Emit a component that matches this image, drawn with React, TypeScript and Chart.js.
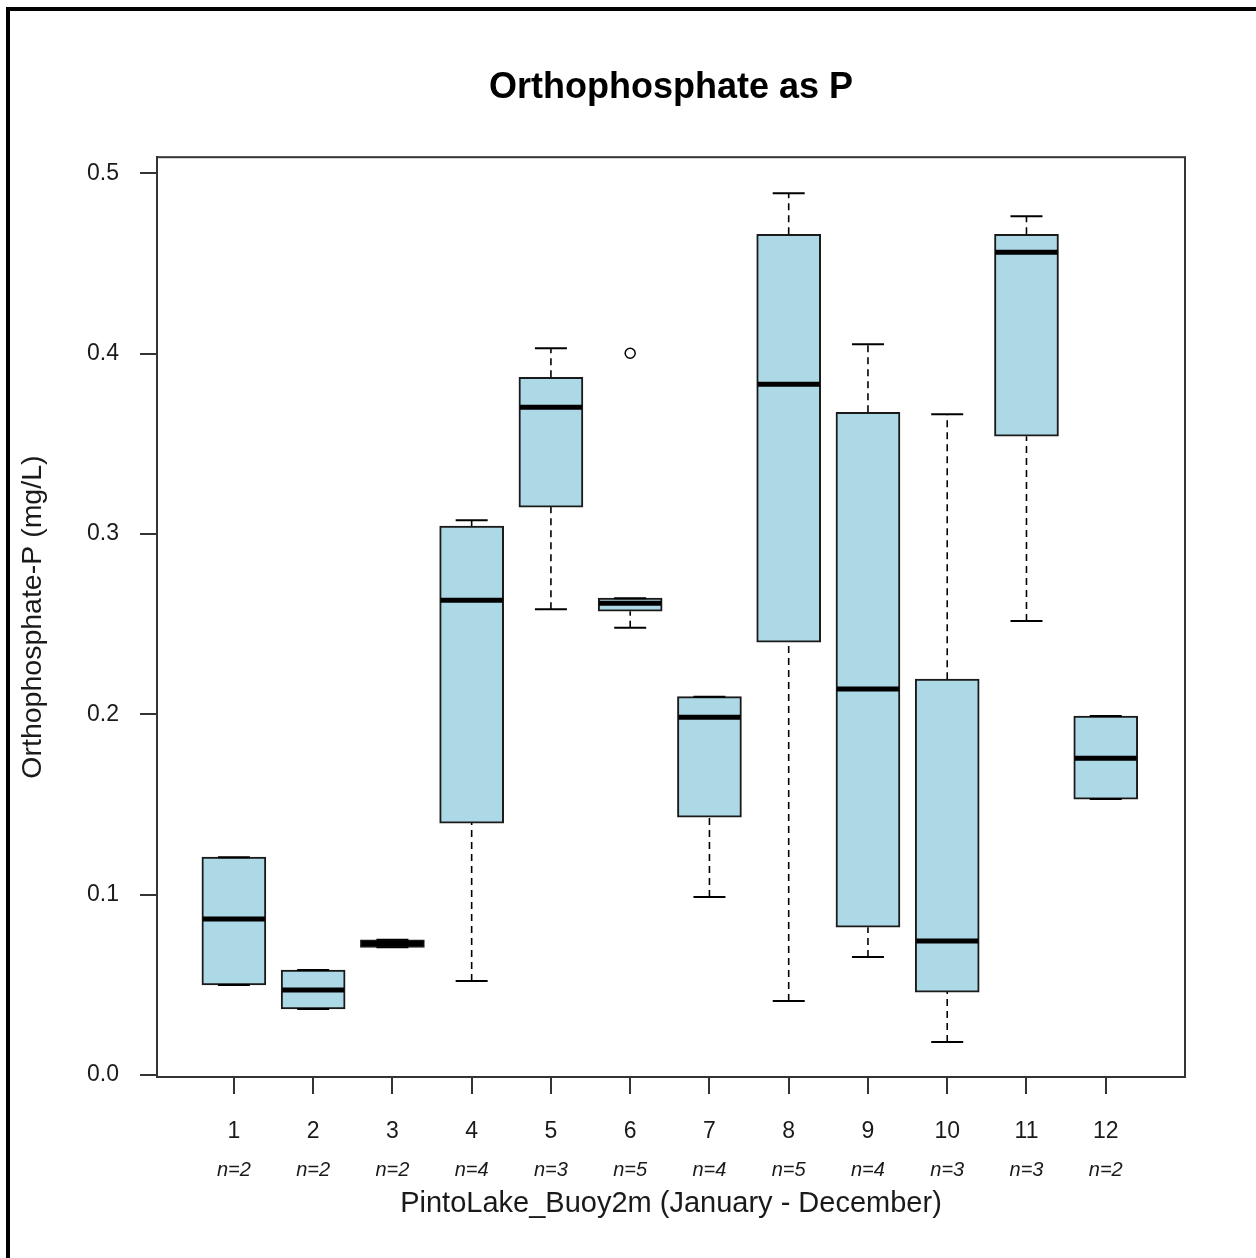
import React, { useEffect, useRef } from 'react';
import { Chart, registerables } from 'chart.js';

Chart.register(...registerables);

const months = ['1', '2', '3', '4', '5', '6', '7', '8', '9', '10', '11', '12'];
const counts = [2, 2, 2, 4, 3, 5, 4, 5, 4, 3, 3, 2];
const whiskerLow = [0.0499, 0.0366, 0.0708, 0.0521, 0.2583, 0.2480, 0.0987, 0.0410, 0.0654, 0.0183, 0.2517, 0.1530];
const q1 = [0.0499, 0.0366, 0.0708, 0.1397, 0.3149, 0.2572, 0.1430, 0.2400, 0.0820, 0.0460, 0.3542, 0.1530];
const medians = [0.0865, 0.0471, 0.0729, 0.2633, 0.3703, 0.2616, 0.1984, 0.3830, 0.2140, 0.0743, 0.4562, 0.1757];
const q3 = [0.1208, 0.0582, 0.0750, 0.3043, 0.3869, 0.2644, 0.2098, 0.4662, 0.3675, 0.2195, 0.4662, 0.1990];
const whiskerHigh = [0.1208, 0.0582, 0.0750, 0.3076, 0.4030, 0.2644, 0.2098, 0.4889, 0.4052, 0.3664, 0.4762, 0.1990];
const outlierMonths = [6];
const outlierValues = [0.4002];
const yTickValues = [0, 0.1, 0.2, 0.3, 0.4, 0.5];

const chartTitle = 'Orthophosphate as P';
const xTitle = 'PintoLake_Buoy2m (January - December)';
const yTitle = 'Orthophosphate-P (mg/L)';

const FONT = "'Liberation Sans', Arial, Helvetica, sans-serif";
const AXIS = '#333333';
const TEXT = '#1a1a1a';

const framePlugin = {
  id: 'plotFrame',
  afterDatasetsDraw(chart: any) {
    const { ctx, chartArea: a } = chart;
    ctx.save();
    ctx.strokeStyle = AXIS;
    ctx.lineWidth = 2;
    ctx.strokeRect(a.left, a.top, a.right - a.left, a.bottom - a.top);
    ctx.restore();
  },
};

export default function App() {
  const ref = useRef<HTMLCanvasElement | null>(null);

  useEffect(() => {
    if (!ref.current) return;
    const pos = months.map((_, i) => i + 1);

    const boxData = pos.map((x, i) => ({ x, y: [q1[i], q3[i]] }));
    const medianData = pos.map((x, i) => ({ x, y: medians[i] }));
    const whiskerData = pos.flatMap((x, i) => [
      { x, y: q3[i] },
      { x, y: whiskerHigh[i] },
      { x, y: null },
      { x, y: whiskerLow[i] },
      { x, y: q1[i] },
      { x, y: null },
    ]);
    const capData = pos.flatMap((x, i) => [
      { x, y: whiskerHigh[i] },
      { x, y: whiskerLow[i] },
    ]);
    const outlierData = outlierMonths.map((m, i) => ({ x: m, y: outlierValues[i] }));

    const chart = new Chart(ref.current, {
      type: 'bar',
      data: {
        datasets: [
          {
            type: 'scatter',
            data: medianData,
            pointStyle: 'line',
            pointRadius: 31,
            pointHoverRadius: 31,
            pointBorderWidth: 5,
            pointBorderColor: '#000',
            borderColor: '#000',
            order: 0,
          } as any,
          {
            type: 'scatter',
            data: outlierData,
            pointStyle: 'circle',
            pointRadius: 5,
            pointBorderWidth: 1.5,
            pointBorderColor: '#000',
            pointBackgroundColor: 'rgba(0,0,0,0)',
            order: 0,
          } as any,
          {
            type: 'scatter',
            data: capData,
            pointStyle: 'line',
            pointRadius: 16,
            pointBorderWidth: 2,
            pointBorderColor: '#000',
            borderColor: '#000',
            order: 1,
          } as any,
          {
            type: 'bar',
            data: boxData,
            backgroundColor: '#ADD8E6',
            borderColor: '#1a1a1a',
            borderWidth: 2,
            borderSkipped: false,
            barThickness: 64,
            order: 2,
          } as any,
          {
            type: 'line',
            data: whiskerData,
            borderColor: '#000',
            borderWidth: 1.6,
            borderDash: [7, 5],
            pointRadius: 0,
            spanGaps: false,
            fill: false,
            order: 3,
          } as any,
        ],
      },
      options: {
        responsive: false,
        animation: false,
        events: [],
        layout: { padding: { left: 0, right: 71, top: 0, bottom: 0 } },
        plugins: {
          legend: { display: false },
          tooltip: { enabled: false },
          title: {
            display: true,
            text: chartTitle,
            fullSize: false,
            color: '#000',
            font: { family: FONT, size: 36, weight: 'bold', lineHeight: 1.2 },
            padding: { top: 66, bottom: 48 },
          },
        },
        scales: {
          x: {
            type: 'linear',
            position: 'bottom',
            weight: 0,
            offset: false,
            min: 0.03,
            max: 13.0,
            afterBuildTicks: (s: any) => {
              s.ticks = months.map((_, i) => ({ value: i + 1 }));
            },
            afterFit: (s: any) => {
              s.height = 73;
              s.paddingLeft = 0;
              s.paddingRight = 0;
            },
            ticks: {
              autoSkip: false,
              maxRotation: 0,
              padding: 24,
              color: TEXT,
              font: { family: FONT, size: 23, lineHeight: 1.2 },
              callback: (v: any) => months[Math.round(v) - 1] ?? '',
            },
            grid: {
              display: true,
              offset: false,
              drawOnChartArea: false,
              drawTicks: true,
              tickLength: 17,
              color: AXIS,
              lineWidth: 2,
            },
            border: { display: true, color: AXIS, width: 2 },
          },
          xn: {
            type: 'linear',
            position: 'bottom',
            weight: 1,
            offset: false,
            min: 0.03,
            max: 13.0,
            afterBuildTicks: (s: any) => {
              s.ticks = counts.map((_, i) => ({ value: i + 1 }));
            },
            afterFit: (s: any) => {
              s.height = 108;
              s.paddingLeft = 0;
              s.paddingRight = 0;
            },
            ticks: {
              autoSkip: false,
              maxRotation: 0,
              padding: 8,
              color: TEXT,
              font: { family: FONT, size: 20, style: 'italic', lineHeight: 1.2 },
              callback: (v: any) => 'n=' + counts[Math.round(v) - 1],
            },
            grid: { display: false, offset: false, drawTicks: false, tickLength: 0 },
            border: { display: false },
            title: {
              display: true,
              text: xTitle,
              color: TEXT,
              font: { family: FONT, size: 29, lineHeight: 1.2 },
              padding: { top: 0, bottom: 37 },
            },
          },
          y: {
            type: 'linear',
            position: 'left',
            min: -0.0011,
            max: 0.5089,
            afterBuildTicks: (s: any) => {
              s.ticks = yTickValues.map((v) => ({ value: v }));
            },
            afterFit: (s: any) => {
              s.width = 157;
              s.paddingTop = 0;
              s.paddingBottom = 0;
            },
            ticks: {
              padding: 21,
              color: TEXT,
              font: { family: FONT, size: 23, lineHeight: 1.2 },
              callback: (v: any) => Number(v).toFixed(1),
            },
            grid: {
              display: true,
              drawOnChartArea: false,
              drawTicks: true,
              tickLength: 17,
              color: AXIS,
              lineWidth: 2,
            },
            border: { display: true, color: AXIS, width: 2 },
            title: {
              display: true,
              text: yTitle,
              color: TEXT,
              font: { family: FONT, size: 28.5, lineHeight: 1.2 },
              padding: { top: 16, bottom: 0 },
            },
          },
        },
      } as any,
      plugins: [framePlugin],
    });

    return () => chart.destroy();
  }, []);

  return (
    <div
      style={{
        position: 'fixed',
        left: 0,
        top: 0,
        width: 1256,
        height: 1258,
        background: '#fff',
        overflow: 'hidden',
      }}
    >
      <div
        style={{
          position: 'absolute',
          left: 6,
          top: 7,
          width: 1400,
          height: 1400,
          border: '4px solid #000',
          boxSizing: 'border-box',
        }}
      />
      <canvas
        ref={ref}
        width={1256}
        height={1258}
        style={{ position: 'absolute', left: 0, top: 0, width: 1256, height: 1258 }}
      />
    </div>
  );
}
